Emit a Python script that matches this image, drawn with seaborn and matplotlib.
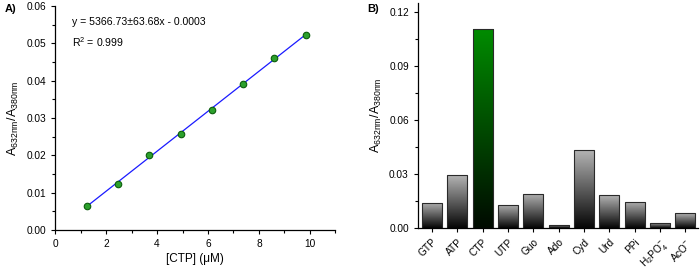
import numpy as np
import pandas as pd
import seaborn as sns
import matplotlib.pyplot as plt
from matplotlib.ticker import MultipleLocator
from matplotlib.colors import LinearSegmentedColormap

# panel A data: calibration
conc = [1.23, 2.46, 3.69, 4.92, 6.15, 7.38, 8.61, 9.84]
ratio = [0.0065, 0.0124, 0.0202, 0.0256, 0.0322, 0.0392, 0.0461, 0.0523]

# panel B data: selectivity
analytes = ['GTP', 'ATP', 'CTP', 'UTP', 'Guo', 'Ado', 'Cyd', 'Urd', 'PPi',
            r'H$_2$PO$_4^{-}$', r'AcO$^{-}$']
response = [0.0141, 0.0294, 0.1106, 0.0130, 0.0191, 0.0017, 0.0433, 0.0183,
            0.0146, 0.0030, 0.0083]

sns.set_style('ticks')
plt.rcParams['font.family'] = ['Liberation Sans', 'DejaVu Sans']
plt.rcParams['mathtext.fontset'] = 'custom'
plt.rcParams['mathtext.rm'] = 'Liberation Sans'
plt.rcParams['mathtext.it'] = 'Liberation Sans'
for k in ('text.color', 'axes.labelcolor', 'xtick.color', 'ytick.color', 'axes.edgecolor'):
    plt.rcParams[k] = 'black'

fig = plt.figure(figsize=(7, 2.69), dpi=100)
ax1 = fig.add_axes([0.079, 0.145, 0.400, 0.833])
ax2 = fig.add_axes([0.597, 0.152, 0.400, 0.837])

dfa = pd.DataFrame({'conc': conc, 'ratio': ratio})
sns.regplot(data=dfa, x='conc', y='ratio', scatter=False, ci=None, ax=ax1,
            line_kws=dict(color='#1a1aff', lw=0.9))
sns.scatterplot(data=dfa, x='conc', y='ratio', ax=ax1, color='#2ca02c',
                edgecolor='#0b5d0b', s=22, linewidth=0.8, zorder=3)
ax1.set_xlim(0, 11)
ax1.set_ylim(0, 0.06)
ax1.xaxis.set_major_locator(MultipleLocator(2))
ax1.xaxis.set_minor_locator(MultipleLocator(1))
ax1.yaxis.set_major_locator(MultipleLocator(0.01))
ax1.yaxis.set_minor_locator(MultipleLocator(0.005))
ax1.yaxis.set_major_formatter(plt.FuncFormatter(lambda v, p: f'{v:.2f}'))
ax1.set_xlabel('[CTP] (\u03bcM)', fontsize=8.5, labelpad=3)
ax1.set_ylabel(r'A$_{632nm}$/A$_{380nm}$', fontsize=9, labelpad=4)
ax1.text(0.06, 0.93, 'y = 5366.73\u00b163.68x - 0.0003', transform=ax1.transAxes,
         fontsize=7.6, va='center')
ax1.text(0.06, 0.84, r'R$^2$ = 0.999', transform=ax1.transAxes,
         fontsize=7.6, va='center')
sns.despine(ax=ax1)

dfb = pd.DataFrame({'analyte': analytes, 'response': response})
sns.barplot(data=dfb, x='analyte', y='response', ax=ax2, width=0.79,
            color='white', edgecolor='#2a2a2a', linewidth=0.8)

gray = LinearSegmentedColormap.from_list('g', ['#050505', '#b4b4b4'])
green = LinearSegmentedColormap.from_list('gr', ['#000a00', '#008c00'])
grad = np.linspace(0, 1, 256).reshape(-1, 1)
for name, patch in zip(analytes, ax2.patches):
    x0, y0 = patch.get_x(), patch.get_y()
    w, h = patch.get_width(), patch.get_height()
    cmap = green if name == 'CTP' else gray
    im = ax2.imshow(grad, cmap=cmap, aspect='auto', origin='lower',
                    extent=[x0, x0 + w, y0, y0 + h], zorder=1)
    im.set_clip_path(patch)
    patch.set_facecolor('none')
    patch.set_zorder(2)
ax2.set_aspect('auto')
ax2.set_xlim(-0.55, 10.5)
ax2.set_ylim(0, 0.125)

ax2.yaxis.set_major_locator(MultipleLocator(0.03))
ax2.yaxis.set_minor_locator(MultipleLocator(0.015))
ax2.yaxis.set_major_formatter(plt.FuncFormatter(lambda v, p: f'{v:.2f}'))
ax2.set_xlabel('')
ax2.set_ylabel(r'A$_{632nm}$/A$_{380nm}$', fontsize=9, labelpad=4)
plt.setp(ax2.get_xticklabels(), rotation=45, ha='right', rotation_mode='anchor')
sns.despine(ax=ax2)

for ax in (ax1, ax2):
    ax.tick_params(which='major', labelsize=7.3, length=3, width=0.8, direction='out')
    ax.tick_params(which='minor', length=2, width=0.8, direction='out')
    for s in ('left', 'bottom'):
        ax.spines[s].set_linewidth(0.9)

fig.text(0.007, 0.955, 'A)', fontsize=8, fontweight='bold')
fig.text(0.524, 0.955, 'B)', fontsize=8, fontweight='bold')

fig.savefig('out.png', dpi=100)
